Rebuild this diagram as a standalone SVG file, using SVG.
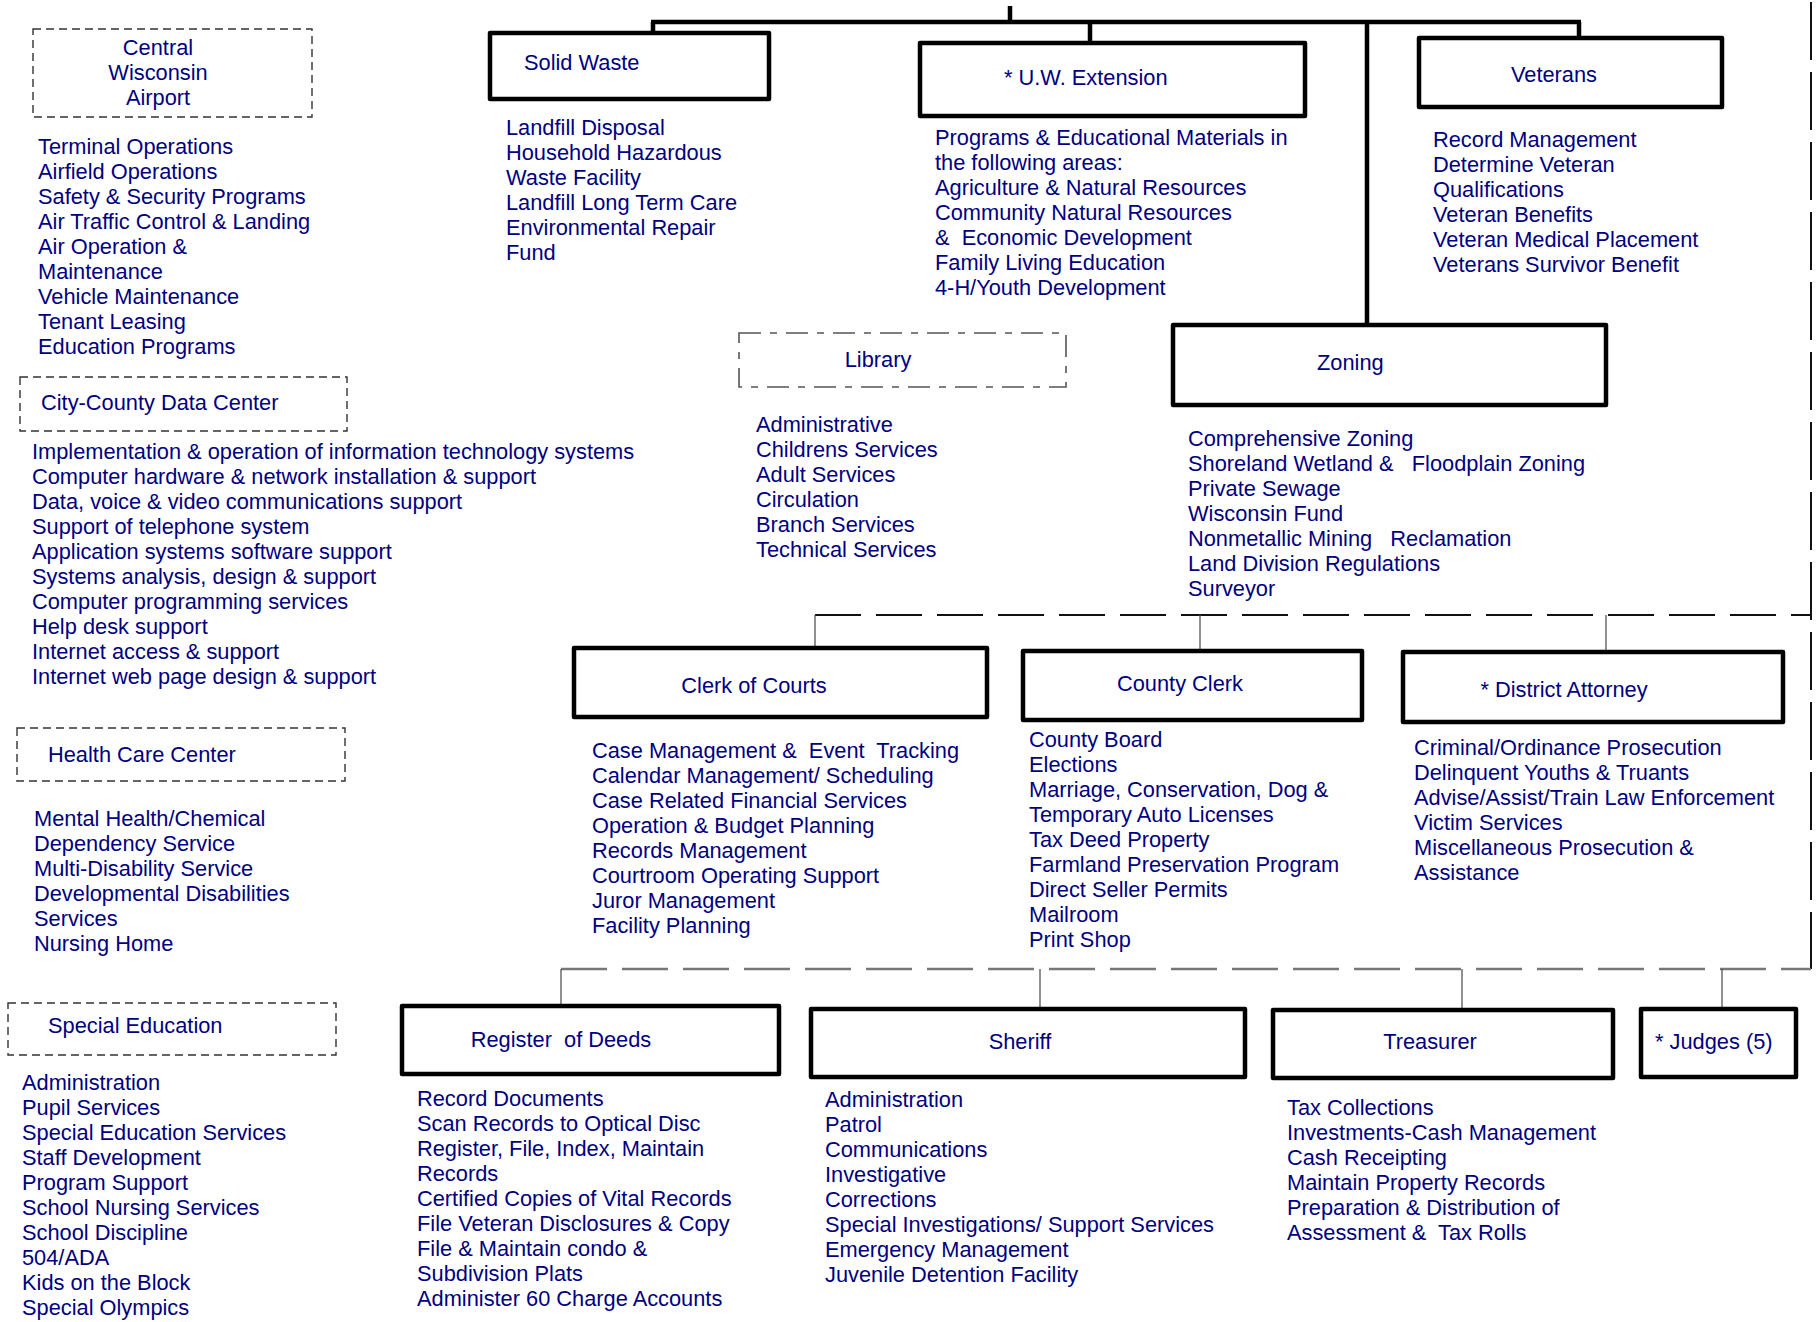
<svg xmlns="http://www.w3.org/2000/svg" width="1817" height="1322" viewBox="0 0 1817 1322">
  <style>
    .t { font-family: "Liberation Sans", Arial, sans-serif; font-size: 21.8px; fill: #000080; white-space: pre; }
    .c { text-anchor: middle; }
    .box { fill: #ffffff; stroke: #000000; stroke-width: 4.5; stroke-linejoin: round; }
    .dbox { fill: none; stroke: #333333; stroke-width: 1.4; stroke-dasharray: 8 5; }
    .lib { fill: none; stroke: #555555; stroke-width: 1.6; stroke-dasharray: 22 9 7 9; }
    .trunk { fill: none; stroke: #000000; stroke-width: 4.5; stroke-linecap: butt; }
    .thin { stroke: #555555; stroke-width: 1.3; }
    .dashA { stroke: #111111; stroke-width: 2; stroke-dasharray: 46 15; }
    .dashB { stroke: #777777; stroke-width: 2.5; stroke-dasharray: 46 15; }
    .dashV { stroke: #111111; stroke-width: 2; stroke-dasharray: 58 12; }
  </style>

  <rect width="1817" height="1322" fill="#ffffff"/>

  <!-- connectors -->
  <g id="connectors">
    <!-- top solid trunk -->
    <line class="trunk" x1="1010" y1="6" x2="1010" y2="22"/>
    <line class="trunk" x1="651" y1="22" x2="1581" y2="22"/>
    <line class="trunk" x1="653" y1="22" x2="653" y2="33"/>
    <line class="trunk" x1="1090" y1="22" x2="1090" y2="43"/>
    <line class="trunk" x1="1367" y1="22" x2="1367" y2="325"/>
    <line class="trunk" x1="1579" y1="22" x2="1579" y2="38"/>
    <!-- right-hand dashed spine -->
    <line class="dashV" x1="1811" y1="2" x2="1811" y2="969"/>
    <!-- middle row dashed bus -->
    <line class="dashA" x1="815" y1="615" x2="1811" y2="615"/>
    <line class="thin" x1="815" y1="615" x2="815" y2="648"/>
    <line class="thin" x1="1200" y1="615" x2="1200" y2="651"/>
    <line class="thin" x1="1606" y1="615" x2="1606" y2="652"/>
    <!-- bottom row dashed bus -->
    <line class="dashB" x1="561" y1="969" x2="1811" y2="969"/>
    <line class="thin" x1="561" y1="969" x2="561" y2="1006"/>
    <line class="thin" x1="1040" y1="969" x2="1040" y2="1009"/>
    <line class="thin" x1="1462" y1="969" x2="1462" y2="1010"/>
    <line class="thin" x1="1722" y1="969" x2="1722" y2="1009"/>
  </g>

  <!-- Central Wisconsin Airport -->
  <g id="airport">
    <rect class="dbox" x="33" y="29" width="279" height="88"/>
    <text class="t c" x="158" y="55">Central</text>
    <text class="t c" x="158" y="80">Wisconsin</text>
    <text class="t c" x="158" y="105">Airport</text>
    <text class="t" x="38" y="154">Terminal Operations</text>
    <text class="t" x="38" y="179">Airfield Operations</text>
    <text class="t" x="38" y="204">Safety &amp; Security Programs</text>
    <text class="t" x="38" y="229">Air Traffic Control &amp; Landing</text>
    <text class="t" x="38" y="254">Air Operation &amp;</text>
    <text class="t" x="38" y="279">Maintenance</text>
    <text class="t" x="38" y="304">Vehicle Maintenance</text>
    <text class="t" x="38" y="329">Tenant Leasing</text>
    <text class="t" x="38" y="354">Education Programs</text>
  </g>

  <!-- City-County Data Center -->
  <g id="data-center">
    <rect class="dbox" x="20" y="377" width="327" height="54"/>
    <text class="t" x="41" y="410">City-County Data Center</text>
    <text class="t" x="32" y="459">Implementation &amp; operation of information technology systems</text>
    <text class="t" x="32" y="484">Computer hardware &amp; network installation &amp; support</text>
    <text class="t" x="32" y="509">Data, voice &amp; video communications support</text>
    <text class="t" x="32" y="534">Support of telephone system</text>
    <text class="t" x="32" y="559">Application systems software support</text>
    <text class="t" x="32" y="584">Systems analysis, design &amp; support</text>
    <text class="t" x="32" y="609">Computer programming services</text>
    <text class="t" x="32" y="634">Help desk support</text>
    <text class="t" x="32" y="659">Internet access &amp; support</text>
    <text class="t" x="32" y="684">Internet web page design &amp; support</text>
  </g>

  <!-- Health Care Center -->
  <g id="health-care">
    <rect class="dbox" x="17" y="728" width="328" height="53"/>
    <text class="t" x="48" y="762">Health Care Center</text>
    <text class="t" x="34" y="826">Mental Health/Chemical</text>
    <text class="t" x="34" y="851">Dependency Service</text>
    <text class="t" x="34" y="876">Multi-Disability Service</text>
    <text class="t" x="34" y="901">Developmental Disabilities</text>
    <text class="t" x="34" y="926">Services</text>
    <text class="t" x="34" y="951">Nursing Home</text>
  </g>

  <!-- Special Education -->
  <g id="special-education">
    <rect class="dbox" x="8" y="1003" width="328" height="52"/>
    <text class="t" x="48" y="1033">Special Education</text>
    <text class="t" x="22" y="1090">Administration</text>
    <text class="t" x="22" y="1115">Pupil Services</text>
    <text class="t" x="22" y="1140">Special Education Services</text>
    <text class="t" x="22" y="1165">Staff Development</text>
    <text class="t" x="22" y="1190">Program Support</text>
    <text class="t" x="22" y="1215">School Nursing Services</text>
    <text class="t" x="22" y="1240">School Discipline</text>
    <text class="t" x="22" y="1265">504/ADA</text>
    <text class="t" x="22" y="1290">Kids on the Block</text>
    <text class="t" x="22" y="1315">Special Olympics</text>
  </g>

  <!-- Solid Waste -->
  <g id="solid-waste">
    <rect class="box" x="490" y="33" width="279" height="66"/>
    <text class="t" x="524" y="70">Solid Waste</text>
    <text class="t" x="506" y="135">Landfill Disposal</text>
    <text class="t" x="506" y="160">Household Hazardous</text>
    <text class="t" x="506" y="185">Waste Facility</text>
    <text class="t" x="506" y="210">Landfill Long Term Care</text>
    <text class="t" x="506" y="235">Environmental Repair</text>
    <text class="t" x="506" y="260">Fund</text>
  </g>

  <!-- U.W. Extension -->
  <g id="uw-extension">
    <rect class="box" x="920" y="43" width="385" height="73"/>
    <text class="t" x="1004" y="85">* U.W. Extension</text>
    <text class="t" x="935" y="145">Programs &amp; Educational Materials in</text>
    <text class="t" x="935" y="170">the following areas:</text>
    <text class="t" x="935" y="195">Agriculture &amp; Natural Resources</text>
    <text class="t" x="935" y="220">Community Natural Resources</text>
    <text class="t" x="935" y="245" xml:space="preserve">&amp;  Economic Development</text>
    <text class="t" x="935" y="270">Family Living Education</text>
    <text class="t" x="935" y="295">4-H/Youth Development</text>
  </g>

  <!-- Veterans -->
  <g id="veterans">
    <rect class="box" x="1419" y="38" width="303" height="69"/>
    <text class="t c" x="1554" y="82">Veterans</text>
    <text class="t" x="1433" y="147">Record Management</text>
    <text class="t" x="1433" y="172">Determine Veteran</text>
    <text class="t" x="1433" y="197">Qualifications</text>
    <text class="t" x="1433" y="222">Veteran Benefits</text>
    <text class="t" x="1433" y="247">Veteran Medical Placement</text>
    <text class="t" x="1433" y="272">Veterans Survivor Benefit</text>
  </g>

  <!-- Library -->
  <g id="library">
    <rect class="lib" x="739" y="333" width="327" height="54"/>
    <text class="t c" x="878" y="367">Library</text>
    <text class="t" x="756" y="432">Administrative</text>
    <text class="t" x="756" y="457">Childrens Services</text>
    <text class="t" x="756" y="482">Adult Services</text>
    <text class="t" x="756" y="507">Circulation</text>
    <text class="t" x="756" y="532">Branch Services</text>
    <text class="t" x="756" y="557">Technical Services</text>
  </g>

  <!-- Zoning -->
  <g id="zoning">
    <rect class="box" x="1173" y="325" width="433" height="80"/>
    <text class="t" x="1317" y="370">Zoning</text>
    <text class="t" x="1188" y="446">Comprehensive Zoning</text>
    <text class="t" x="1188" y="471" xml:space="preserve">Shoreland Wetland &amp;   Floodplain Zoning</text>
    <text class="t" x="1188" y="496">Private Sewage</text>
    <text class="t" x="1188" y="521">Wisconsin Fund</text>
    <text class="t" x="1188" y="546" xml:space="preserve">Nonmetallic Mining   Reclamation</text>
    <text class="t" x="1188" y="571">Land Division Regulations</text>
    <text class="t" x="1188" y="596">Surveyor</text>
  </g>

  <!-- Clerk of Courts -->
  <g id="clerk-of-courts">
    <rect class="box" x="574" y="648" width="413" height="69"/>
    <text class="t c" x="754" y="693">Clerk of Courts</text>
    <text class="t" x="592" y="758" xml:space="preserve">Case Management &amp;  Event  Tracking</text>
    <text class="t" x="592" y="783">Calendar Management/ Scheduling</text>
    <text class="t" x="592" y="808">Case Related Financial Services</text>
    <text class="t" x="592" y="833">Operation &amp; Budget Planning</text>
    <text class="t" x="592" y="858">Records Management</text>
    <text class="t" x="592" y="883">Courtroom Operating Support</text>
    <text class="t" x="592" y="908">Juror Management</text>
    <text class="t" x="592" y="933">Facility Planning</text>
  </g>

  <!-- County Clerk -->
  <g id="county-clerk">
    <rect class="box" x="1023" y="651" width="339" height="69"/>
    <text class="t c" x="1180" y="691">County Clerk</text>
    <text class="t" x="1029" y="747">County Board</text>
    <text class="t" x="1029" y="772">Elections</text>
    <text class="t" x="1029" y="797">Marriage, Conservation, Dog &amp;</text>
    <text class="t" x="1029" y="822">Temporary Auto Licenses</text>
    <text class="t" x="1029" y="847">Tax Deed Property</text>
    <text class="t" x="1029" y="872">Farmland Preservation Program</text>
    <text class="t" x="1029" y="897">Direct Seller Permits</text>
    <text class="t" x="1029" y="922">Mailroom</text>
    <text class="t" x="1029" y="947">Print Shop</text>
  </g>

  <!-- District Attorney -->
  <g id="district-attorney">
    <rect class="box" x="1403" y="652" width="380" height="70"/>
    <text class="t c" x="1564" y="697">* District Attorney</text>
    <text class="t" x="1414" y="755">Criminal/Ordinance Prosecution</text>
    <text class="t" x="1414" y="780">Delinquent Youths &amp; Truants</text>
    <text class="t" x="1414" y="805">Advise/Assist/Train Law Enforcement</text>
    <text class="t" x="1414" y="830">Victim Services</text>
    <text class="t" x="1414" y="855">Miscellaneous Prosecution &amp;</text>
    <text class="t" x="1414" y="880">Assistance</text>
  </g>

  <!-- Register of Deeds -->
  <g id="register-of-deeds">
    <rect class="box" x="402" y="1006" width="377" height="68"/>
    <text class="t c" x="561" y="1047" xml:space="preserve">Register  of Deeds</text>
    <text class="t" x="417" y="1106">Record Documents</text>
    <text class="t" x="417" y="1131">Scan Records to Optical Disc</text>
    <text class="t" x="417" y="1156">Register, File, Index, Maintain</text>
    <text class="t" x="417" y="1181">Records</text>
    <text class="t" x="417" y="1206">Certified Copies of Vital Records</text>
    <text class="t" x="417" y="1231">File Veteran Disclosures &amp; Copy</text>
    <text class="t" x="417" y="1256">File &amp; Maintain condo &amp;</text>
    <text class="t" x="417" y="1281">Subdivision Plats</text>
    <text class="t" x="417" y="1306">Administer 60 Charge Accounts</text>
  </g>

  <!-- Sheriff -->
  <g id="sheriff">
    <rect class="box" x="811" y="1009" width="434" height="68"/>
    <text class="t c" x="1020" y="1049">Sheriff</text>
    <text class="t" x="825" y="1107">Administration</text>
    <text class="t" x="825" y="1132">Patrol</text>
    <text class="t" x="825" y="1157">Communications</text>
    <text class="t" x="825" y="1182">Investigative</text>
    <text class="t" x="825" y="1207">Corrections</text>
    <text class="t" x="825" y="1232">Special Investigations/ Support Services</text>
    <text class="t" x="825" y="1257">Emergency Management</text>
    <text class="t" x="825" y="1282">Juvenile Detention Facility</text>
  </g>

  <!-- Treasurer -->
  <g id="treasurer">
    <rect class="box" x="1273" y="1010" width="340" height="68"/>
    <text class="t c" x="1430" y="1049">Treasurer</text>
    <text class="t" x="1287" y="1115">Tax Collections</text>
    <text class="t" x="1287" y="1140">Investments-Cash Management</text>
    <text class="t" x="1287" y="1165">Cash Receipting</text>
    <text class="t" x="1287" y="1190">Maintain Property Records</text>
    <text class="t" x="1287" y="1215">Preparation &amp; Distribution of</text>
    <text class="t" x="1287" y="1240" xml:space="preserve">Assessment &amp;  Tax Rolls</text>
  </g>

  <!-- Judges -->
  <g id="judges">
    <rect class="box" x="1641" y="1009" width="155" height="68"/>
    <text class="t" x="1655" y="1049">* Judges (5)</text>
  </g>
</svg>
